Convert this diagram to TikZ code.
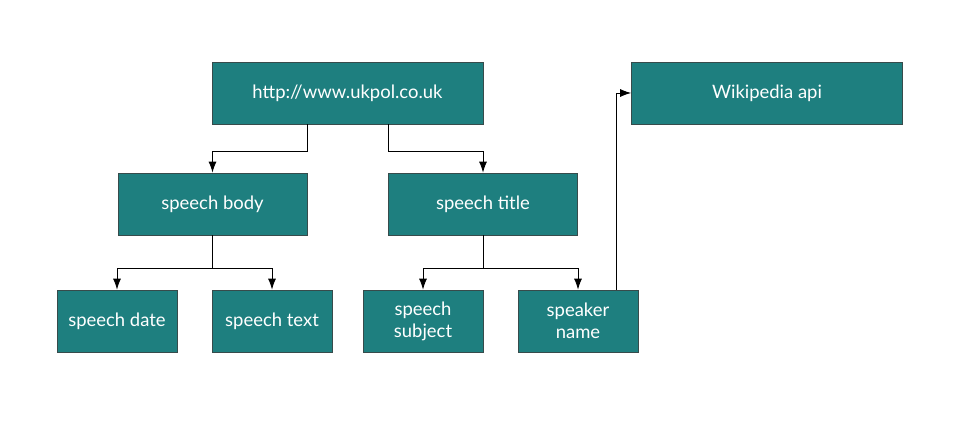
\documentclass[tikz,border=0pt]{standalone}
\usepackage{fontspec}
\setmainfont{Lato}
\usetikzlibrary{arrows.meta}
\definecolor{tealbox}{RGB}{30,127,127}
\definecolor{tealedge}{RGB}{55,75,75}
\begin{document}
\begin{tikzpicture}[
    box/.style={draw=tealedge,thin,fill=tealbox,text=white,rectangle,minimum height=1.24cm,align=center,font=\fontsize{10.5}{12.5}\selectfont},
    wide/.style={box,minimum width=5.42cm},
    mid/.style={box,minimum width=3.78cm},
    small/.style={box,minimum width=2.4cm},
    arr/.style={-{Latex[length=2.2mm,width=1.6mm]},line width=0.5pt}
  ]
    \useasboundingbox (0,0) rectangle (19.28,8.52);

    % sources
    \node[wide] (ukpol) at (6.95,6.66) {http://www.ukpol.co.uk};
    \node[wide] (wiki) at (15.34,6.66) {Wikipedia api};

    % speech parts
    \node[mid] (body) at (4.25,4.44) {speech body};
    \node[mid] (title) at (9.66,4.44) {speech title};

    % fields
    \node[small] (date) at (2.34,2.10) {speech date};
    \node[small] (text) at (5.44,2.10) {speech text};
    \node[small] (subject) at (8.46,2.10) {speech\\subject};
    \node[small] (speaker) at (11.56,2.10) {speaker\\name};

    % connectors
    \draw[arr] ([xshift=-0.81cm]ukpol.south) -- ++(0,-0.54) -| (body.north);
    \draw[arr] ([xshift=0.81cm]ukpol.south) -- ++(0,-0.54) -| (title.north);
    \draw[arr] (body.south) -- ++(0,-0.66) -| (date.north);
    \draw[arr] (body.south) -- ++(0,-0.66) -| (text.north);
    \draw[arr] (title.south) -- ++(0,-0.66) -| (subject.north);
    \draw[arr] (title.south) -- ++(0,-0.66) -| (speaker.north);
    \draw[arr] ([xshift=0.76cm]speaker.north) |- (wiki.west);
  \end{tikzpicture}
\end{document}
